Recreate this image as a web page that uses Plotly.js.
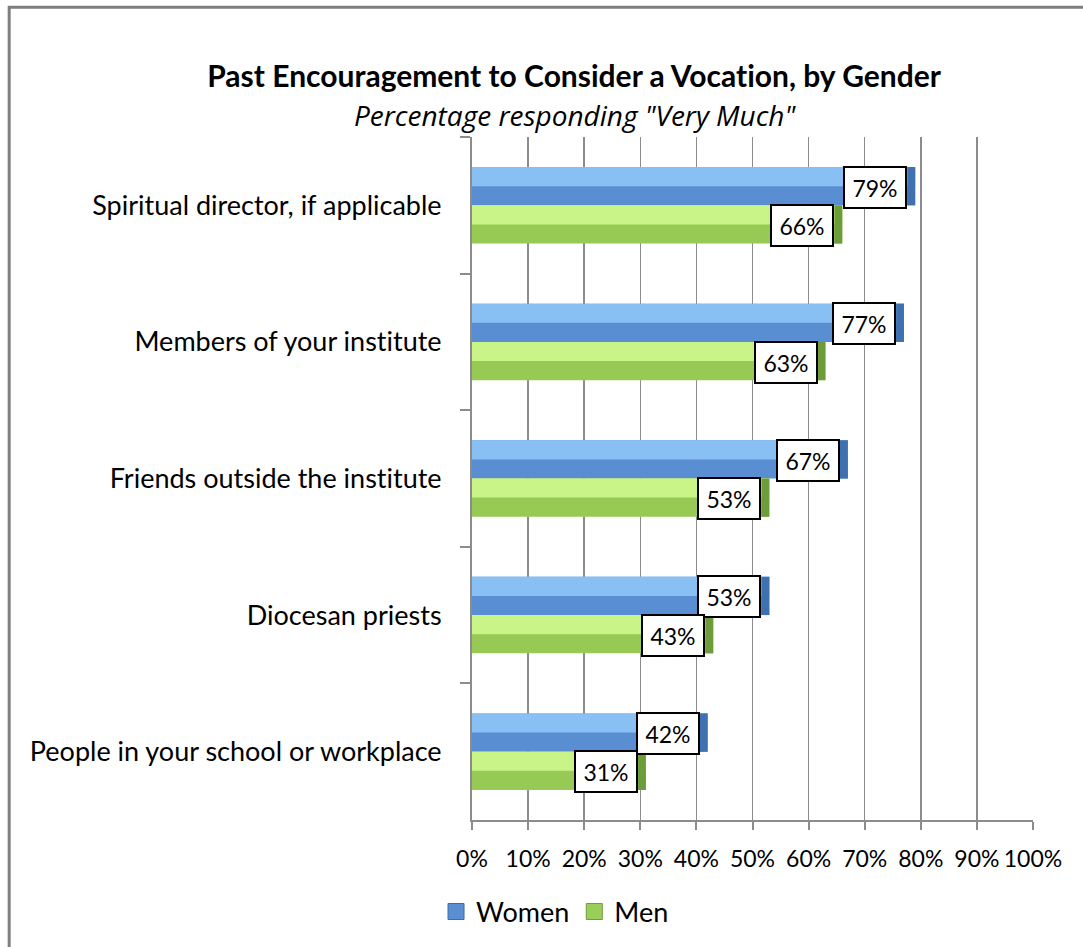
<!DOCTYPE html>
<html>
<head>
<meta charset="utf-8">
<script src="https://cdn.plot.ly/plotly-3.0.1.min.js"></script>
<style>
html,body{margin:0;padding:0;background:#fff;}
#chart{width:1083px;height:947px;}
#chart text{font-variant-ligatures:none;font-feature-settings:"liga" 0,"clig" 0;}
</style>
</head>
<body>
<div id="chart"></div>
<script>
// ---- data ----
var categories = [
  "Spiritual director, if applicable",
  "Members of your institute",
  "Friends outside the institute",
  "Diocesan priests",
  "People in your school or workplace"
];
var women = [79, 77, 67, 53, 42];
var men = [66, 63, 53, 43, 31];
var seriesNames = ["Women", "Men"];
var xTickVals = [0, 10, 20, 30, 40, 50, 60, 70, 80, 90, 100];
var xTickText = ["0%", "10%", "20%", "30%", "40%", "50%", "60%", "70%", "80%", "90%", "100%"];

// ---- style ----
var FONT = "Lato, 'Open Sans', sans-serif";
var BW = 0.28;      // bar thickness in category units
var CAP = 1.4;      // end cap length in % units
var styles = [
  {off: -BW, base: "#5a8ed3", hi: "#88c0f4", cap: "#3f70b0", legend: "#5b8fd4", legendLine: "#3a6aa8"},
  {off: 0, base: "#96ca55", hi: "#c9f488", cap: "#6d9d3a", legend: "#9acd5a", legendLine: "#6d9d3a"}
];
var seriesVals = [women, men];

var traces = [];
var annotations = [];
seriesVals.forEach(function (vals, s) {
  var st = styles[s];
  traces.push({
    type: "bar", orientation: "h", name: seriesNames[s],
    y: categories, x: vals, offset: st.off, width: BW,
    marker: {color: st.base, line: {width: 0}},
    showlegend: false, hoverinfo: "skip"
  });
  traces.push({
    type: "bar", orientation: "h", showlegend: false,
    y: categories, x: vals, offset: st.off, width: BW / 2,
    marker: {color: st.hi, line: {width: 0}}, hoverinfo: "skip"
  });
  traces.push({
    type: "bar", orientation: "h", showlegend: false,
    y: categories, x: vals.map(function () { return CAP; }),
    base: vals.map(function (v) { return v - CAP; }),
    offset: st.off, width: BW,
    marker: {color: st.cap, line: {width: 0}}, hoverinfo: "skip"
  });
  vals.forEach(function (v, i) {
    annotations.push({
      xref: "x", yref: "y", x: v - CAP, y: i + st.off + BW / 2,
      xanchor: "right", yanchor: "middle", showarrow: false, yshift: -1,
      text: v + "%", font: {family: FONT, size: 23, color: "#000"},
      bgcolor: "#fff", bordercolor: "#000", borderwidth: 2, borderpad: 0,
      width: 60, height: 39
    });
  });
});
// legend entries (square markers like the reference legend keys)
seriesNames.forEach(function (n, s) {
  traces.push({
    type: "scatter", mode: "markers", name: n, x: [null], y: [null],
    marker: {symbol: "square", size: 16, color: styles[s].legend,
             line: {color: styles[s].legendLine, width: 1}},
    showlegend: true, hoverinfo: "skip"
  });
});

annotations.push({
  xref: "paper", yref: "paper", x: 0.183, y: 1.091, xanchor: "center", yanchor: "middle",
  showarrow: false, text: "<b>Past Encouragement to Consider a Vocation, by Gender</b>",
  font: {family: FONT, size: 30, color: "#000"}
});
annotations.push({
  xref: "paper", yref: "paper", x: 0.183, y: 1.0326, xanchor: "center", yanchor: "middle",
  showarrow: false, text: "<i>Percentage responding \"Very Much\"</i>",
  font: {family: "'Open Sans', sans-serif", size: 28, color: "#000"}
});

var layout = {
  width: 1083, height: 947,
  margin: {l: 472, r: 49.5, t: 137, b: 126, pad: 0},
  paper_bgcolor: "#fff", plot_bgcolor: "#fff",
  barmode: "overlay",
  font: {family: FONT, size: 22, color: "#000"},
  xaxis: {
    range: [0, 100], tickvals: xTickVals, ticktext: xTickText,
    showgrid: true, gridcolor: "#8c8c8c", gridwidth: 1.5,
    showline: true, linecolor: "#8c8c8c", linewidth: 2,
    ticks: "outside", ticklen: 8, tickcolor: "#8c8c8c", tickwidth: 2,
    zeroline: false, fixedrange: true, ticklabelstandoff: 9,
    tickfont: {family: FONT, size: 23, color: "#000"}
  },
  yaxis: {
    type: "category", autorange: "reversed",
    showgrid: false, showline: true, linecolor: "#8c8c8c", linewidth: 2,
    ticks: "outside", ticklen: 10, tickcolor: "#8c8c8c", tickwidth: 2,
    tickson: "boundaries", zeroline: false, fixedrange: true,
    ticklabelstandoff: 23,
    tickfont: {family: FONT, size: 27, color: "#000"}
  },
  legend: {
    orientation: "h", x: 0.148, y: -0.133, xanchor: "center", yanchor: "middle",
    font: {family: FONT, size: 27, color: "#000"}, itemwidth: 30,
    traceorder: "normal", bgcolor: "rgba(0,0,0,0)"
  },
  annotations: annotations,
  shapes: [{
    type: "path", xref: "paper", yref: "paper",
    path: "M -0.825 -0.3 L -0.825 1.19 L 1.2 1.19",
    line: {color: "#7f7f7f", width: 3}
  }],
  showlegend: true
};

Plotly.newPlot("chart", traces, layout, {displayModeBar: false, staticPlot: true});
</script>
</body>
</html>
